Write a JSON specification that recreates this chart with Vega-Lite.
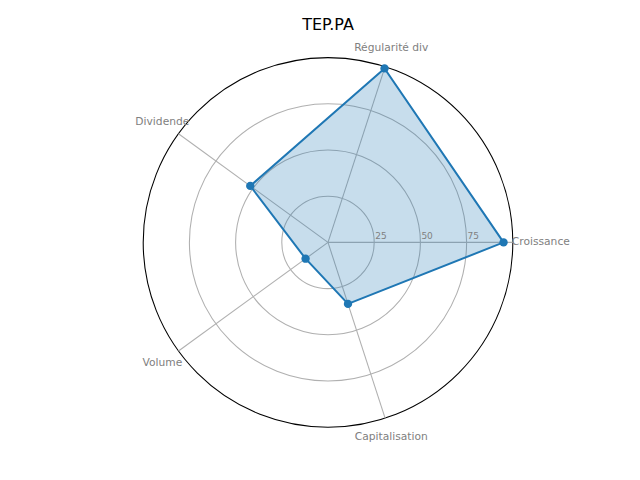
{
  "$schema": "https://vega.github.io/schema/vega-lite/v6.json",
  "description": "Radar chart TEP.PA",
  "autosize": {"type": "none"},
  "padding": {"left": 16, "top": 22.4, "right": 0, "bottom": 0},
  "width": 624,
  "height": 440,
  "title": {
    "text": "TEP.PA",
    "frame": "group",
    "fontSize": 16,
    "fontWeight": "normal",
    "color": "black",
    "anchor": "middle",
    "baseline": "alphabetic",
    "offset": 0,
    "dy": 24
  },
  "datasets": {
    "scores": [
      {"label": "Croissance", "value": 95},
      {"label": "Régularité div", "value": 99},
      {"label": "Dividende", "value": 52},
      {"label": "Volume", "value": 15},
      {"label": "Capitalisation", "value": 35}
    ],
    "rings": [
      {"r": 25},
      {"r": 50},
      {"r": 75},
      {"r": 100}
    ]
  },
  "layer": [
    {
      "data": {"name": "rings"},
      "mark": {"type": "arc", "theta": 0, "theta2": 6.2832, "fill": null, "strokeWidth": 1.07},
      "encoding": {
        "radius": {
          "field": "r",
          "type": "quantitative",
          "stack": null,
          "scale": {"type": "linear", "domain": [0, 100], "range": [0, 184.8], "zero": true}
        },
        "stroke": {
          "condition": {"test": "datum.r === 100", "value": "#000000"},
          "value": "#b0b0b0"
        }
      }
    },
    {
      "data": {"name": "scores"},
      "transform": [
        {"window": [{"op": "row_number", "as": "idx"}]},
        {"calculate": "(datum.idx - 1) * 2 * PI / 5", "as": "angle"},
        {"calculate": "datum.value * cos(datum.angle)", "as": "px"},
        {"calculate": "datum.value * sin(datum.angle)", "as": "py"},
        {"calculate": "100 * cos(datum.angle)", "as": "sx"},
        {"calculate": "100 * sin(datum.angle)", "as": "sy"},
        {"calculate": "110.8 * cos(datum.angle)", "as": "lx"},
        {"calculate": "110.8 * sin(datum.angle)", "as": "ly"},
        {"calculate": "0", "as": "zero"}
      ],
      "encoding": {
        "x": {
          "field": "px",
          "type": "quantitative",
          "scale": {"domain": [-168.83, 168.83], "nice": false, "zero": false},
          "axis": null
        },
        "y": {
          "field": "py",
          "type": "quantitative",
          "scale": {"domain": [-119.05, 119.05], "nice": false, "zero": false},
          "axis": null
        }
      },
      "layer": [
        {
          "mark": {"type": "rule", "color": "#b0b0b0", "strokeWidth": 1.07},
          "encoding": {
            "x": {"field": "zero", "type": "quantitative"},
            "y": {"field": "zero", "type": "quantitative"},
            "x2": {"field": "sx"},
            "y2": {"field": "sy"}
          }
        },
        {
          "mark": {
            "type": "line",
            "interpolate": "linear-closed",
            "stroke": "#1f77b4",
            "strokeWidth": 2,
            "fill": "#1f77b4",
            "fillOpacity": 0.25
          },
          "encoding": {
            "order": {"field": "idx", "type": "quantitative"}
          }
        },
        {
          "mark": {"type": "point", "filled": true, "size": 70, "color": "#1f77b4", "opacity": 1}
        },
        {
          "transform": [{"filter": "datum.idx > 1"}],
          "mark": {"type": "text", "align": "center", "baseline": "middle", "fontSize": 10.7, "color": "#808080"},
          "encoding": {
            "x": {"field": "lx", "type": "quantitative"},
            "y": {"field": "ly", "type": "quantitative"},
            "text": {"field": "label", "type": "nominal"}
          }
        },
        {
          "transform": [{"filter": "datum.idx === 1"}],
          "mark": {"type": "text", "align": "left", "baseline": "middle", "dx": -1, "fontSize": 10.7, "color": "#808080"},
          "encoding": {
            "x": {"field": "sx", "type": "quantitative"},
            "y": {"field": "sy", "type": "quantitative"},
            "text": {"field": "label", "type": "nominal"}
          }
        }
      ]
    },
    {
      "data": {"name": "rings"},
      "transform": [{"filter": "datum.r < 100"}],
      "mark": {"type": "text", "align": "left", "baseline": "bottom", "dx": 1, "dy": -1, "fontSize": 9, "color": "#808080"},
      "encoding": {
        "x": {"field": "r", "type": "quantitative"},
        "y": {"datum": 0, "type": "quantitative"},
        "text": {"field": "r", "type": "nominal"}
      }
    }
  ],
  "config": {
    "font": "DejaVu Sans",
    "view": {"stroke": null}
  }
}
